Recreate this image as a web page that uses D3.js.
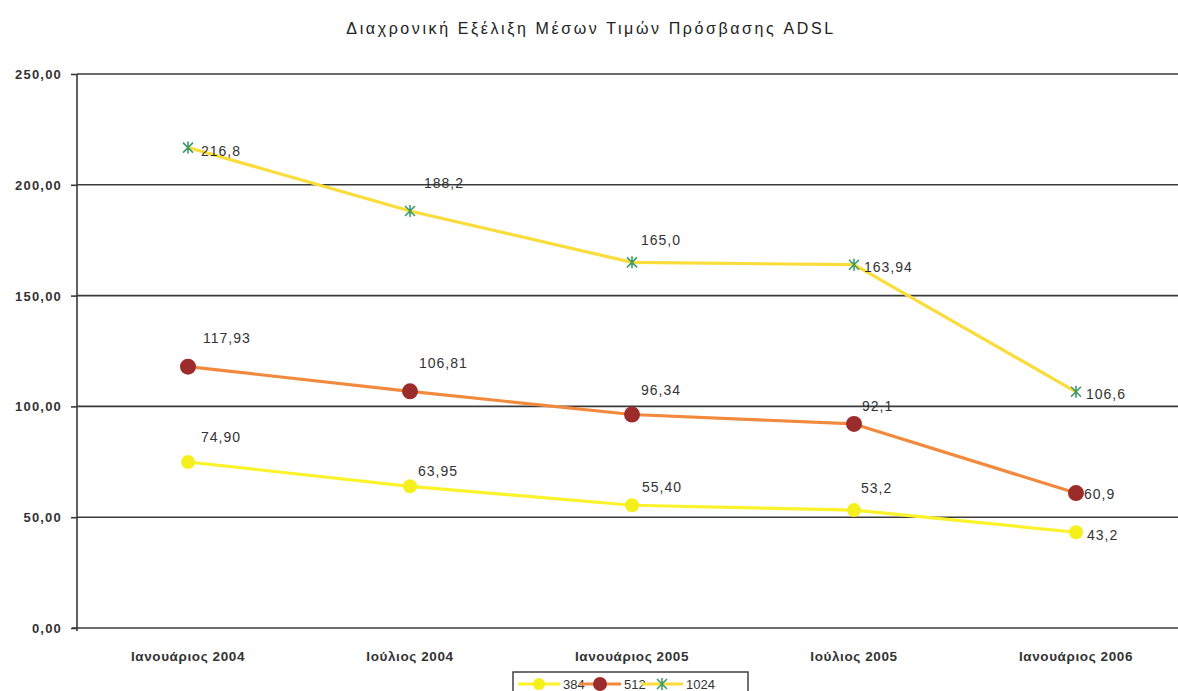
<!DOCTYPE html>
<html>
<head>
<meta charset="utf-8">
<script src="https://cdn.jsdelivr.net/npm/d3@7"></script>
<style>
  html, body { margin: 0; padding: 0; background: #fff; }
  svg { display: block; font-family: "Liberation Sans", Arial, sans-serif; }
</style>
</head>
<body>
<svg id="chart" width="1178" height="691"></svg>
<script>
// ---- DATA ----
const categories = ["Ιανουάριος 2004", "Ιούλιος 2004", "Ιανουάριος 2005", "Ιούλιος 2005", "Ιανουάριος 2006"];
const seriesNames = ["384", "512", "1024"];
const values384 = [74.90, 63.95, 55.40, 53.2, 43.2];
const values512 = [117.93, 106.81, 96.34, 92.1, 60.9];
const values1024 = [216.8, 188.2, 165.0, 163.94, 106.6];
const labels384 = ["74,90", "63,95", "55,40", "53,2", "43,2"];
const labels512 = ["117,93", "106,81", "96,34", "92,1", "60,9"];
const labels1024 = ["216,8", "188,2", "165,0", "163,94", "106,6"];
const yTicks = [0, 50, 100, 150, 200, 250];
const yTickLabels = ["0,00", "50,00", "100,00", "150,00", "200,00", "250,00"];
const title = "Διαχρονική Εξέλιξη Μέσων Τιμών Πρόσβασης ADSL";

// ---- LAYOUT / STYLE ----
const plot = { left: 77, right: 1187, top: 74, bottom: 628 };
const styles = {
  "384":  { line: "#fbf22a", marker: "circle", fill: "#f6ef1e", r: 7 },
  "512":  { line: "#f28a3e", marker: "circle", fill: "#9c2b2b", r: 8 },
  "1024": { line: "#fadc3a", marker: "star",   fill: "#3f9a6a", r: 5 }
};
// manual label offsets [dx, dy] from the marker, as placed in the original
const labelOffsets = {
  "384":  [[13, -25], [8, -15], [10, -18], [7, -22], [11, 3]],
  "512":  [[15, -29], [9, -28], [9, -24], [8, -18], [8, 1]],
  "1024": [[13, 4], [14, -28], [9, -22], [10, 2], [10, 2]]
};

const series = [
  { name: "384", values: values384, labels: labels384 },
  { name: "512", values: values512, labels: labels512 },
  { name: "1024", values: values1024, labels: labels1024 }
];

const svg = d3.select("#chart");

const x = d3.scaleBand().domain(categories).range([plot.left, plot.right]);
const y = d3.scaleLinear().domain([0, 250]).range([plot.bottom, plot.top]);
const cx = c => x(c) + x.bandwidth() / 2;

// title
svg.append("text")
  .attr("x", 591).attr("y", 34)
  .attr("text-anchor", "middle")
  .attr("font-size", 16)
  .attr("letter-spacing", 2.6)
  .attr("fill", "#222")
  .text(title);

// gridlines
svg.append("g").selectAll("line").data(yTicks.filter(d => d > 0)).join("line")
  .attr("x1", plot.left).attr("x2", 1178)
  .attr("y1", d => y(d)).attr("y2", d => y(d))
  .attr("stroke", "#3a3a3a").attr("stroke-width", 1.6);

// y axis
const yAxis = d3.axisLeft(y).tickValues(yTicks).tickSize(6).tickPadding(9)
  .tickFormat((d, i) => yTickLabels[i]);
const gy = svg.append("g").attr("transform", `translate(${plot.left},0)`).call(yAxis);
gy.select(".domain").attr("stroke", "#3a3a3a").attr("stroke-width", 1.6)
  .attr("d", `M0,${plot.top}V${plot.bottom + 3}`);
gy.selectAll(".tick line").attr("stroke", "#3a3a3a").attr("stroke-width", 1.6);
gy.selectAll(".tick text").attr("font-size", 13).attr("font-weight", "bold")
  .attr("fill", "#333").attr("font-family", "'Liberation Sans', Arial, sans-serif")
  .attr("letter-spacing", 1.2)
  .attr("dy", "0.35em");

// x axis
const xAxis = d3.axisBottom(x).tickSize(0).tickPadding(23);
const gx = svg.append("g").attr("transform", `translate(0,${plot.bottom})`).call(xAxis);
gx.select(".domain").attr("stroke", "#3a3a3a").attr("stroke-width", 1.6)
  .attr("d", `M${plot.left - 5},0H1178`);
gx.selectAll(".tick text").attr("font-size", 13.5).attr("font-weight", "bold")
  .attr("fill", "#333").attr("font-family", "'Liberation Sans', Arial, sans-serif")
  .attr("letter-spacing", 0.6);

// star marker path (Excel-style: X with a vertical bar)
function starPath(r) {
  return `M${-r},${-r}L${r},${r}M${-r},${r}L${r},${-r}M0,${-r * 1.2}L0,${r * 1.2}`;
}

const lineGen = d3.line().x((d, i) => cx(categories[i])).y(d => y(d));

series.forEach(s => {
  const st = styles[s.name];
  const g = svg.append("g");
  g.append("path").datum(s.values)
    .attr("d", lineGen)
    .attr("fill", "none").attr("stroke", st.line).attr("stroke-width", 3.2)
    .attr("stroke-linejoin", "round");
  if (st.marker === "circle") {
    g.selectAll("circle").data(s.values).join("circle")
      .attr("cx", (d, i) => cx(categories[i])).attr("cy", d => y(d))
      .attr("r", st.r).attr("fill", st.fill);
  } else {
    g.selectAll("path.m").data(s.values).join("path").attr("class", "m")
      .attr("transform", (d, i) => `translate(${cx(categories[i])},${y(d)})`)
      .attr("d", starPath(st.r)).attr("stroke", st.fill).attr("stroke-width", 1.6).attr("fill", "none");
  }
  g.selectAll("text").data(s.values).join("text")
    .attr("x", (d, i) => cx(categories[i]) + labelOffsets[s.name][i][0])
    .attr("y", (d, i) => y(d) + labelOffsets[s.name][i][1])
    .attr("dy", "0.35em")
    .attr("font-size", 14).attr("letter-spacing", 1).attr("fill", "#333")
    .text((d, i) => s.labels[i]);
});

// legend
const legend = svg.append("g").attr("transform", "translate(513,672)");
legend.append("rect").attr("x", 0).attr("y", 0).attr("width", 235).attr("height", 25)
  .attr("fill", "#fff").attr("stroke", "#333").attr("stroke-width", 1.4);
const legendX = [5, 66, 128];
seriesNames.forEach((name, i) => {
  const st = styles[name];
  const gx0 = legendX[i];
  const lg = legend.append("g").attr("transform", `translate(${gx0},12)`);
  lg.append("line").attr("x1", 0).attr("x2", 42).attr("y1", 0).attr("y2", 0)
    .attr("stroke", st.line).attr("stroke-width", 3.2);
  if (st.marker === "circle") {
    lg.append("circle").attr("cx", 21).attr("cy", 0).attr("r", st.r - 1).attr("fill", st.fill);
  } else {
    lg.append("path").attr("transform", "translate(21,0)").attr("d", starPath(st.r))
      .attr("stroke", st.fill).attr("stroke-width", 1.6).attr("fill", "none");
  }
  lg.append("text").attr("x", 45).attr("y", 0).attr("dy", "0.35em")
    .attr("font-size", 13).attr("fill", "#333").text(name);
});
</script>
</body>
</html>
